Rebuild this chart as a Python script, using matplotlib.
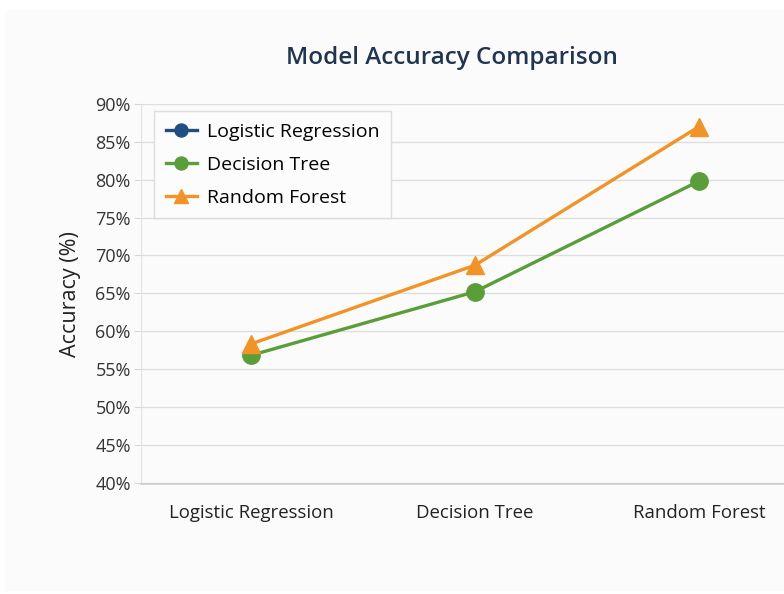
import numpy as np
import matplotlib.pyplot as plt
from matplotlib.ticker import FuncFormatter

plt.rcParams["font.family"] = ["Open Sans", "DejaVu Sans"]

models = ["Logistic Regression", "Decision Tree", "Random Forest"]
series_names = ["Logistic Regression", "Decision Tree", "Random Forest"]
# Logistic Regression appears only in the legend (no visible line in the chart)
logreg_acc = []
tree_acc = [56.8, 65.2, 79.8]
forest_acc = [58.3, 68.7, 87.0]
y_ticks = [40, 45, 50, 55, 60, 65, 70, 75, 80, 85, 90]

colors = ["#1f4e85", "#5a9e3a", "#f39325"]
markers = ["o", "o", "^"]

bg = "#fbfbfb"
fig = plt.figure(figsize=(7.84, 5.94), dpi=100, facecolor="white")
fig.patches.append(plt.Rectangle((0.007, 0.005), 0.993, 0.978, transform=fig.transFigure,
                                 facecolor=bg, edgecolor="none", zorder=-1))
ax = fig.add_axes([0.18, 0.185, 0.82, 0.64])
ax.set_facecolor(bg)

x = np.arange(len(models))
all_vals = [logreg_acc, tree_acc, forest_acc]
for name, vals, c, m in zip(series_names, all_vals, colors, markers):
    ax.plot(x[:len(vals)], vals, color=c, marker=m, markersize=12.5, linewidth=2.4,
            label=name, zorder=3)

ax.set_xlim(-0.49, 2.38)
ax.set_ylim(39.8, 90)
ax.set_yticks(y_ticks)
ax.yaxis.set_major_formatter(FuncFormatter(lambda v, _: f"{v:.0f}%"))
ax.set_xticks(x)
ax.set_xticklabels(models)
ax.grid(axis="y", color="#dedede", linewidth=1)
ax.set_axisbelow(True)

for side in ["top", "right"]:
    ax.spines[side].set_visible(False)
ax.spines["left"].set_color("#e2e2e2")
ax.spines["bottom"].set_color("#cfcfcf")
ax.spines["bottom"].set_linewidth(1.3)
ax.tick_params(axis="y", length=5, color="#d8d8d8", labelsize=13, labelcolor="#333333", pad=2.5)
ax.tick_params(axis="x", length=0, labelsize=13.4, labelcolor="#222222", pad=14)

ax.set_ylabel("Accuracy (%)", fontsize=15.5, color="#222222", labelpad=10)
fig.text(0.577, 0.903, "Model Accuracy Comparison", fontsize=17.5, color="#1f3550",
         fontweight="semibold", ha="center", va="center")

leg = ax.legend(loc="upper left", bbox_to_anchor=(0.005, 1.006), fontsize=14,
                frameon=True, fancybox=False, edgecolor="#dddddd", framealpha=1,
                facecolor="#fcfcfc", handlelength=1.6, borderpad=0.6, labelspacing=0.76,
                markerscale=0.75, handletextpad=0.5)
leg.get_frame().set_linewidth(1)

fig.savefig("out.png", dpi=100, facecolor=fig.get_facecolor())
